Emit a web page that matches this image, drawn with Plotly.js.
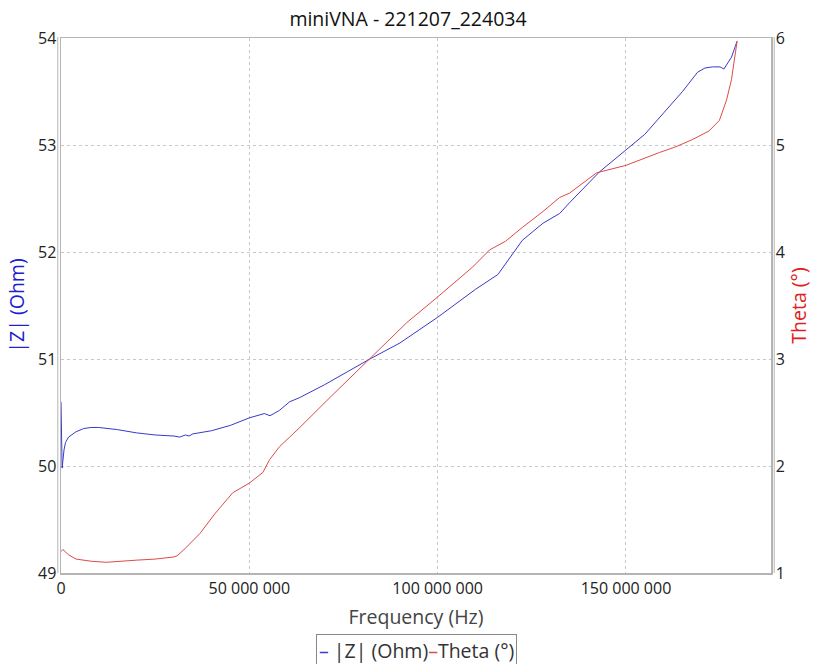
<!DOCTYPE html>
<html>
<head>
<meta charset="utf-8">
<script src="https://cdn.plot.ly/plotly-3.0.1.min.js"></script>
<style>html,body{margin:0;padding:0;background:#fff;}#chart{width:816px;height:664px;}</style>
</head>
<body>
<div id="chart"></div>
<script>
// |Z| (Ohm) series: frequency (Hz) and value
const zFreq = [0, 0.3e6, 0.8e6, 1.2e6, 2e6, 4e6, 6e6, 8e6, 10e6, 15e6, 20e6, 25e6, 30e6, 31.5e6, 33e6, 34e6, 35e6, 40e6, 45e6, 50e6, 54e6, 55.5e6, 58e6, 60.7e6, 63.4e6, 70e6, 76e6, 82e6, 90e6, 100e6, 110e6, 116e6, 122.5e6, 128e6, 132.4e6, 135e6, 143e6, 150e6, 155e6, 160e6, 165e6, 169e6, 171e6, 173e6, 175e6, 176e6, 177e6, 178e6, 179e6, 179.5e6];
const zVals = [50.60, 49.98, 50.15, 50.22, 50.27, 50.32, 50.35, 50.36, 50.36, 50.34, 50.31, 50.29, 50.28, 50.27, 50.29, 50.28, 50.30, 50.33, 50.38, 50.45, 50.49, 50.47, 50.52, 50.60, 50.64, 50.76, 50.88, 51.00, 51.15, 51.39, 51.65, 51.79, 52.11, 52.27, 52.36, 52.46, 52.75, 52.95, 53.10, 53.30, 53.50, 53.68, 53.72, 53.73, 53.73, 53.71, 53.76, 53.82, 53.92, 53.97];

// Theta (°) series
const tFreq = [0, 0.5e6, 2e6, 4e6, 8e6, 12e6, 20e6, 25e6, 30e6, 30.8e6, 33e6, 36.9e6, 41e6, 45.6e6, 50e6, 53.6e6, 55.4e6, 58e6, 60.7e6, 63.4e6, 71.4e6, 76e6, 82e6, 91.8e6, 100e6, 109.3e6, 113.8e6, 118e6, 122.5e6, 128e6, 132.4e6, 135e6, 142.2e6, 150e6, 158.9e6, 163e6, 167.6e6, 172e6, 174.8e6, 176.7e6, 178e6, 178.8e6, 179.3e6, 179.5e6];
const tVals = [1.20, 1.22, 1.17, 1.13, 1.11, 1.10, 1.12, 1.13, 1.15, 1.16, 1.23, 1.37, 1.56, 1.75, 1.84, 1.94, 2.06, 2.18, 2.27, 2.36, 2.64, 2.80, 3.00, 3.34, 3.58, 3.86, 4.02, 4.10, 4.23, 4.38, 4.51, 4.55, 4.74, 4.81, 4.93, 4.98, 5.05, 5.13, 5.23, 5.42, 5.61, 5.82, 5.93, 5.97];

const xTickVals = [0, 50e6, 100e6, 150e6];
const xTickText = ['0', '50 000 000', '100 000 000', '150 000 000'];
const zTicks = [49, 50, 51, 52, 53, 54];
const tTicks = [1, 2, 3, 4, 5, 6];

const zName = '|Z| (Ohm)';
const tName = 'Theta (°)';
const zColor = '#3a3ac8';
const tColor = '#de4a4a';

const FONT = '"Open Sans", "Noto Sans", sans-serif';

const traces = [
  {x: zFreq, y: zVals, name: zName, type: 'scatter', mode: 'lines',
   line: {color: zColor, width: 1}, yaxis: 'y'},
  {x: tFreq, y: tVals, name: tName, type: 'scatter', mode: 'lines',
   line: {color: tColor, width: 1}, yaxis: 'y2'}
];

const frameColor = '#b4b4b4';

const layout = {
  width: 816, height: 664,
  paper_bgcolor: '#fff', plot_bgcolor: '#fff',
  margin: {l: 61, r: 45, t: 38, b: 91, autoexpand: false},
  font: {family: FONT, color: '#222', size: 16},
  title: {text: 'miniVNA - 221207_224034', x: 0.5, xanchor: 'center',
          y: 0.971, yanchor: 'middle', yref: 'container',
          font: {family: FONT, size: 19.5, color: '#111'}},
  showlegend: false,
  annotations: [{
    xref: 'paper', yref: 'paper', x: 0.5, xanchor: 'center', y: -0.114, yanchor: 'top',
    text: '<span style="color:' + zColor + '">–</span> ' + zName +
          '<span style="color:' + tColor + '">–</span>' + tName,
    showarrow: false, font: {family: FONT, size: 19.5, color: '#333'},
    bordercolor: '#888', borderwidth: 1, borderpad: 2, bgcolor: '#fff'
  }],
  shapes: [
    {type: 'line', xref: 'paper', yref: 'paper', x0: -0.0045, x1: -0.0045, y0: 0, y1: 1.002,
     line: {color: frameColor, width: 1}},
    {type: 'line', xref: 'paper', yref: 'paper', x0: 1.0045, x1: 1.0045, y0: 0, y1: 1.002,
     line: {color: frameColor, width: 1}}
  ],
  xaxis: {range: [0, 188.5e6], tickvals: xTickVals, ticktext: xTickText,
          showgrid: true, gridcolor: '#c8c8c8', griddash: 'dot', gridwidth: 1,
          showline: true, linecolor: frameColor, linewidth: 1.5, mirror: true,
          zeroline: false, ticks: '', tickfont: {size: 16, color: '#222'},
          title: {text: 'Frequency (Hz)', font: {size: 19.5, color: '#444'}, standoff: 12}},
  yaxis: {range: [49, 54], tickvals: zTicks, showgrid: true, gridcolor: '#c8c8c8',
          griddash: 'dot', gridwidth: 1, showline: true, linecolor: frameColor,
          linewidth: 1.5, mirror: false, zeroline: false, ticks: '',
          tickfont: {size: 16, color: '#222'},
          title: {text: zName, font: {size: 19.5, color: '#2020d0'}, standoff: 8}},
  yaxis2: {range: [1, 6], tickvals: tTicks, overlaying: 'y', side: 'right',
           showgrid: false, showline: true, linecolor: frameColor, linewidth: 1.5,
           zeroline: false, ticks: '', tickfont: {size: 16, color: '#222'},
           title: {text: tName, font: {size: 19.5, color: '#e02020'}, standoff: 8}}
};

Plotly.newPlot('chart', traces, layout, {displayModeBar: false, staticPlot: true});
</script>
</body>
</html>
